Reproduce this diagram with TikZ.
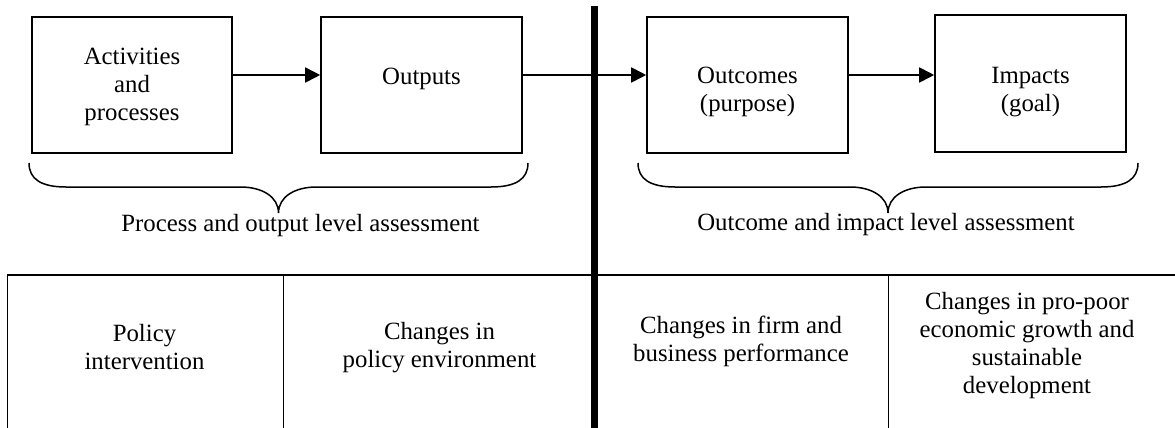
\documentclass[tikz,border=0pt]{standalone}
\usepackage{fontspec}
\setmainfont{Liberation Serif}
\usetikzlibrary{arrows.meta}
\newcommand{\curlybrace}[4]{
	\draw[line width=1.5pt] (#1,#3) .. controls (#1,#3+16) and (#1+12,#3+24) .. (#1+37,#3+24)
		-- (#4-38,#3+24) .. controls (#4-16,#3+24) and (#4,#3+34) .. (#4,#3+50)
		.. controls (#4,#3+34) and (#4+16,#3+24) .. (#4+38,#3+24)
		-- (#2-37,#3+24) .. controls (#2-12,#3+24) and (#2,#3+16) .. (#2,#3);
}

\begin{document}
\begin{tikzpicture}[x=1pt,y=-1pt,
		font=\fontsize{24.8}{28}\selectfont,
		stagebox/.style={draw,line width=1.6pt,inner sep=0pt,minimum width=200pt,minimum height=136pt},
		txt/.style={align=center,inner sep=0pt},
		flow/.style={line width=1.8pt,-{Triangle[length=15pt,width=15pt]}},
		tabline/.style={line width=1.5pt}]
	\useasboundingbox (0,0) rectangle (1175,428);
	% stages
	\node[stagebox] (act) at (132,85) {};
	\node[stagebox,minimum width=201pt] (out) at (421.5,85) {};
	\node[stagebox,minimum width=201pt] (outc) at (747.5,85) {};
	\node[stagebox,minimum width=191pt,minimum height=137pt] (imp) at (1030.5,83.5) {};
	\node[txt] (act-t) at (132,87) {Activities\\and\\processes};
	\node[txt] (out-t) at (421.5,78.5) {Outputs};
	\node[txt] (outc-t) at (747.5,92.4) {Outcomes\\(purpose)};
	\node[txt] (imp-t) at (1030.5,91.7) {Impacts\\(goal)};
	\draw[flow] ([yshift=10pt]act.east) -- ([yshift=10pt]out.west);
	\draw[flow] ([yshift=10pt]out.east) -- ([yshift=10pt]outc.west);
	\draw[flow] ([yshift=10pt]outc.east) -- ([yshift=10pt]outc.east -| imp.west);
	% braces
	\curlybrace{29}{528}{163}{278.5};
	\curlybrace{638}{1138}{163}{888};
	\node[txt] (proc-l) at (300.5,226) {Process and output level assessment};
	\node[txt] (outc-l) at (886,225) {Outcome and impact level assessment};
	% divider and table
	\draw[line width=7.5pt] (594.5,6) -- (594.5,428);
	\draw[tabline] (7.5,428) -- (7.5,275) -- (1175,275);
	\draw[tabline] (283.5,275) -- (283.5,428);
	\draw[tabline] (888.5,275) -- (888.5,428);
	\node[txt] (pol) at (144.5,347.3) {Policy\\intervention};
	\node[txt] (env) at (439.5,347.3) {Changes in\\policy environment};
	\node[txt] (firm) at (741,341) {Changes in firm and\\business performance};
	\node[txt] (grow) at (1027,345.5) {Changes in pro-poor\\economic growth and\\sustainable\\development};
\end{tikzpicture}
\end{document}
